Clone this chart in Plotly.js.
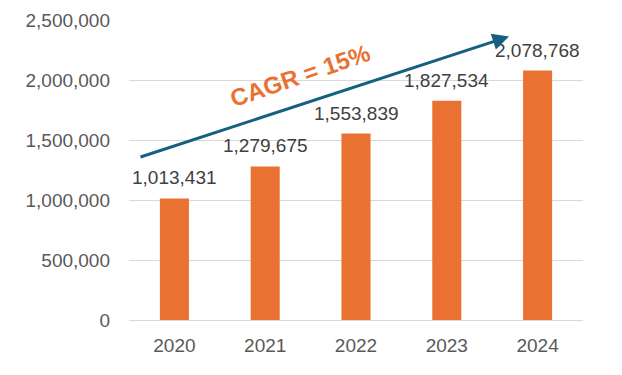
<!DOCTYPE html>
<html>
<head>
<meta charset="utf-8">
<script src="https://cdn.plot.ly/plotly-3.0.1.min.js"></script>
<style>html,body{margin:0;padding:0;background:#fff;}#chart{width:622px;height:375px;}</style>
</head>
<body>
<div id="chart"></div>
<script>
const years = [2020, 2021, 2022, 2023, 2024];
const yearLabels = ["2020", "2021", "2022", "2023", "2024"];
const values = [1013431, 1279675, 1553839, 1827534, 2078768];
const yTicks = [0, 500000, 1000000, 1500000, 2000000, 2500000];
const yTickLabels = ["0", "500,000", "1,000,000", "1,500,000", "2,000,000", "2,500,000"];
const cagrLabel = "CAGR = 15%";

const FONT = "Liberation Sans, Arial, sans-serif";

const trace = {
  type: "bar",
  x: years,
  y: values,
  width: 0.32,
  marker: {color: "#E97132", line: {width: 0}},
  hoverinfo: "none"
};

const labelAnns = years.map((yr, i) => ({
  x: yr, y: values[i], xref: "x", yref: "y",
  text: values[i].toLocaleString("en-US"),
  showarrow: false,
  yanchor: "bottom",
  yshift: 8,
  font: {family: FONT, size: 19, color: "#404040"}
}));

const layout = {
  width: 622, height: 375,
  margin: {l: 129, r: 39, t: 19.5, b: 55, pad: 0},
  paper_bgcolor: "#ffffff",
  plot_bgcolor: "#ffffff",
  showlegend: false,
  xaxis: {
    type: "linear",
    range: [2019.5, 2024.5],
    tickvals: years,
    ticktext: yearLabels,
    showgrid: false,
    zeroline: false,
    showline: false,
    ticks: "",
    ticklabelstandoff: 12,
    tickfont: {family: FONT, size: 19, color: "#595959"}
  },
  yaxis: {
    range: [0, 2500000],
    tickvals: yTicks,
    ticktext: yTickLabels,
    showgrid: true,
    gridcolor: "#D9D9D9",
    gridwidth: 1,
    zeroline: true,
    zerolinecolor: "#D9D9D9",
    zerolinewidth: 1,
    showline: false,
    ticks: "",
    ticklabelstandoff: 18,
    tickfont: {family: FONT, size: 19, color: "#595959"}
  },
  annotations: labelAnns.concat([
    {
      xref: "paper", yref: "paper",
      x: 0.837, y: 0.945,
      axref: "pixel", ayref: "pixel",
      ax: -370, ay: 121,
      text: "",
      showarrow: true,
      arrowhead: 2,
      arrowsize: 1.1,
      arrowwidth: 3,
      arrowcolor: "#156082",
      standoff: 0
    },
    {
      xref: "paper", yref: "paper",
      x: 0.3767, y: 0.815,
      xanchor: "center", yanchor: "middle",
      text: "<b>" + cagrLabel + "</b>",
      showarrow: false,
      textangle: -19,
      font: {family: FONT, size: 24, color: "#E97132"}
    }
  ])
};

Plotly.newPlot("chart", [trace], layout, {staticPlot: true, displayModeBar: false});
</script>
</body>
</html>
